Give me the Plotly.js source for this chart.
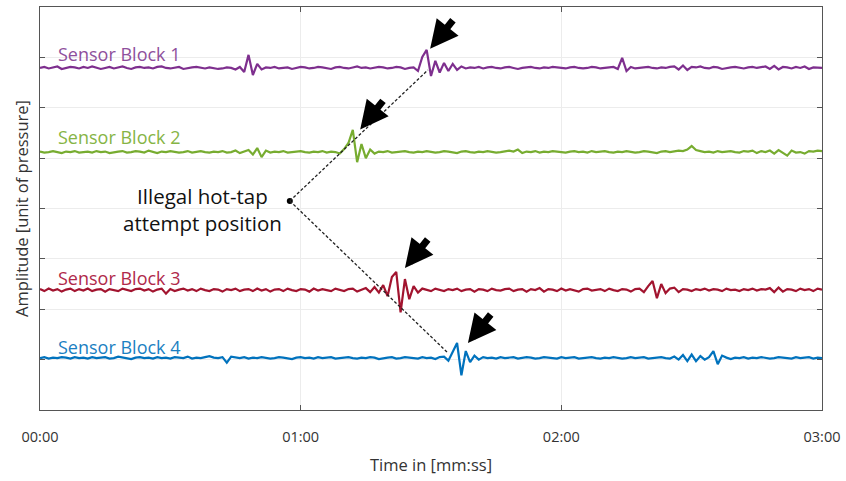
<!DOCTYPE html>
<html>
<head>
<meta charset="utf-8">
<script src="https://cdn.plot.ly/plotly-3.0.1.min.js"></script>
<style>html,body{margin:0;padding:0;background:#fff;}#chart{width:846px;height:481px;}</style>
</head>
<body>
<div id="chart"></div>
<script>
// ---- data ----
const sensorNames = ["Sensor Block 1", "Sensor Block 2", "Sensor Block 3", "Sensor Block 4"];
const channelOffsets = [6.79, 5.12, 2.38, 1.03];
const timeStartSec = 0;
const timeStepSec = 1;
const xTickVals = [0, 60, 120, 180];
const xTickText = ["00:00", "01:00", "02:00", "03:00"];

const block1 = [0.00,0.02,-0.01,0.01,0.03,-0.02,0.00,0.02,0.01,-0.01,
0.02,0.00,0.03,0.01,-0.02,0.00,0.02,-0.01,0.01,0.03,
0.00,-0.02,0.01,0.02,0.00,0.01,-0.01,0.02,0.03,0.00,
-0.01,0.01,0.02,-0.02,0.00,0.01,0.02,0.00,-0.01,0.01,
0.00,-0.02,-0.01,0.01,0.00,-0.03,0.02,-0.08,0.26,-0.14,
0.08,-0.03,0.01,0.00,0.02,-0.01,0.00,0.01,-0.02,0.00,
0.02,0.01,-0.01,0.00,0.02,0.01,0.00,-0.02,0.01,0.02,
0.00,-0.01,0.01,0.03,0.00,0.01,-0.01,0.00,0.02,0.01,
-0.01,0.00,0.02,0.01,-0.02,0.00,0.01,-0.06,0.22,0.36,
-0.16,0.14,-0.09,0.10,-0.06,0.08,-0.04,0.03,-0.01,0.01,
0.00,0.02,-0.01,0.01,0.02,0.00,-0.01,0.01,0.02,0.00,
-0.02,0.00,0.01,0.02,0.00,-0.01,0.01,0.00,0.02,0.01,
0.00,-0.01,0.01,0.02,0.00,-0.01,0.00,0.02,0.01,-0.01,
0.00,0.01,0.02,-0.02,0.20,-0.06,0.02,-0.01,0.00,0.01,
0.02,0.00,-0.01,0.01,0.00,0.02,0.03,-0.03,0.05,-0.04,
0.02,0.01,0.03,0.00,-0.01,0.02,0.01,-0.02,0.00,0.01,
0.02,0.00,-0.01,0.01,0.02,0.00,0.01,0.03,-0.02,0.04,
-0.03,0.02,0.01,-0.01,0.02,0.00,0.03,-0.02,0.01,0.00,
0.00];

const block2 = [0.01,-0.01,0.00,0.02,0.00,-0.02,0.01,0.00,0.02,-0.01,
0.00,0.01,-0.01,0.02,0.00,0.01,-0.02,0.00,0.01,0.02,
-0.01,0.00,0.02,0.01,-0.01,0.03,0.00,-0.02,0.01,0.00,
0.02,0.01,-0.01,0.00,0.02,-0.01,0.01,0.02,0.00,-0.01,
0.01,0.00,0.02,-0.01,0.00,0.03,-0.02,0.01,0.04,-0.05,
0.08,-0.10,0.03,-0.01,0.01,0.00,0.02,-0.01,0.00,0.01,
0.02,0.00,-0.01,0.01,0.00,0.02,-0.01,0.01,0.00,-0.03,
0.06,0.18,0.44,-0.20,0.16,-0.12,0.05,-0.03,0.01,0.00,
0.02,-0.01,0.00,0.01,0.02,0.00,-0.01,0.01,0.00,0.02,
0.01,-0.01,0.00,0.02,0.01,0.00,-0.02,0.01,0.02,0.00,
-0.01,0.01,0.00,0.02,0.01,-0.01,0.00,0.02,0.03,0.01,
0.05,-0.02,0.01,0.00,0.02,-0.01,0.01,0.00,0.02,0.01,
0.00,-0.01,0.01,0.02,0.00,0.01,-0.01,0.02,0.00,0.01,
0.02,0.00,-0.01,0.01,0.00,0.02,0.01,-0.01,0.00,0.02,
0.01,0.00,-0.02,0.01,0.02,0.00,0.01,0.03,0.02,0.05,
0.12,0.04,0.02,0.00,0.01,-0.01,0.02,0.00,0.01,0.02,
0.00,-0.01,0.02,0.01,0.03,-0.02,0.02,0.00,0.03,-0.03,
0.04,-0.02,-0.07,0.03,-0.01,0.00,-0.03,0.02,0.01,0.03,
0.02];

const block3 = [0.02,-0.02,0.03,-0.01,0.02,-0.03,0.01,0.03,-0.02,0.02,
-0.01,0.03,-0.02,0.01,0.02,-0.03,0.02,0.00,-0.02,0.03,
0.01,-0.02,0.02,0.03,-0.01,0.02,-0.03,0.01,0.03,-0.07,
0.02,-0.02,0.01,0.03,-0.01,0.02,-0.02,0.03,0.00,-0.02,
0.02,0.01,-0.03,0.02,0.00,0.03,-0.02,0.01,0.02,-0.02,
0.03,-0.01,0.02,-0.03,0.01,0.02,-0.02,0.03,0.00,-0.02,
0.02,0.01,-0.03,0.03,-0.01,0.02,0.00,-0.02,0.03,0.01,
-0.02,0.02,0.03,-0.03,0.01,0.04,-0.04,0.06,-0.05,0.10,
-0.12,0.26,0.36,-0.44,0.22,-0.18,0.08,-0.05,0.03,0.01,
-0.02,0.03,0.01,-0.02,0.02,0.00,0.03,-0.02,0.01,0.02,
-0.03,0.02,0.01,-0.02,0.03,0.00,-0.01,0.02,0.03,-0.02,
0.01,0.02,-0.03,0.02,0.00,0.04,-0.03,0.02,0.01,-0.02,
0.03,-0.01,0.02,0.00,-0.03,0.02,0.03,-0.01,0.01,0.02,
-0.02,0.03,0.00,-0.02,0.02,0.01,-0.03,0.02,0.03,-0.04,
0.08,0.18,-0.16,0.12,-0.06,0.03,0.05,-0.04,0.02,0.01,
-0.02,0.02,0.00,0.03,-0.01,0.02,0.01,-0.02,0.03,0.00,
0.01,-0.02,0.02,0.00,0.03,-0.01,0.02,0.01,0.04,-0.04,
0.05,-0.03,0.02,0.01,-0.02,0.03,0.00,0.02,-0.02,0.03,
0.01];

const block4 = [0.00,0.02,-0.01,0.01,0.00,0.02,0.01,-0.01,0.02,0.00,
0.01,-0.01,0.02,0.00,0.01,0.02,-0.01,0.00,0.03,0.01,
0.00,-0.02,0.01,0.02,0.00,0.01,-0.01,0.02,0.00,0.01,
-0.01,0.02,0.01,0.00,0.03,-0.01,0.01,0.00,0.02,0.04,
0.01,0.00,0.02,-0.09,0.03,0.01,0.00,0.02,-0.01,0.01,
0.00,0.02,0.01,-0.01,0.00,0.02,0.01,0.00,-0.02,0.01,
0.02,0.00,0.01,-0.01,0.02,0.00,0.01,0.02,-0.01,0.00,
0.01,0.02,0.00,-0.01,0.01,0.00,0.02,0.01,-0.02,0.00,
0.01,0.02,-0.01,0.00,0.02,0.01,0.00,-0.01,0.02,0.00,
0.01,-0.02,0.02,0.03,-0.05,0.12,0.30,-0.34,0.14,-0.08,
0.05,-0.03,0.02,0.00,0.01,-0.01,0.02,0.00,0.01,0.02,
-0.01,0.00,0.02,0.01,-0.01,0.00,0.02,0.01,0.00,-0.01,
0.02,0.00,0.01,0.02,-0.01,0.00,0.01,0.02,0.00,-0.01,
0.01,0.00,0.02,0.01,-0.01,0.00,0.02,0.00,0.01,0.02,
-0.01,0.00,0.01,0.02,0.00,-0.01,0.03,-0.03,0.06,-0.06,
0.07,-0.06,0.04,-0.03,0.02,0.14,-0.12,0.05,0.01,-0.02,
0.01,0.00,0.02,-0.01,0.01,0.00,0.02,0.01,-0.01,0.00,
0.02,0.01,0.00,-0.01,0.02,0.00,0.01,0.02,-0.01,0.01,
0.00];

// Arrival-detection markers (arrow heads) per block: [time s, amplitude]
const arrivalTimes = [89.8, 73.7, 84.0, 98.5];
const arrivalLevels = [7.17, 5.57, 2.82, 1.33];
// Hot-tap position and pickup points on the dotted paths
const hotTapPoint = [57.5, 4.15];
const pathEndUpper = [89.3, 6.75];
const pathEndLower = [93.7, 1.15];
const labelTime = 3.6;
const labelLevels = [7.07, 5.42, 2.63, 1.26];
const hotTapLabelPos = [37.5, 3.98];

// ---- chart ----
const colors = ["#7E2F8E", "#77AC30", "#A2142F", "#0072BD"];
const labelColors = ["#8E4F9C", "#86B445", "#B0294A", "#1B7FC2"];
const series = [block1, block2, block3, block4];
const font = "'Open Sans', 'Liberation Sans', sans-serif";

const traces = series.map((vals, i) => ({
  x: vals.map((_, k) => timeStartSec + k * timeStepSec),
  y: vals.map(v => v + channelOffsets[i]),
  type: "scatter",
  mode: "lines",
  line: {color: colors[i], width: 2.2},
  hoverinfo: "skip",
  showlegend: false
}));

traces.push({
  x: [hotTapPoint[0]], y: [hotTapPoint[1]],
  type: "scatter", mode: "markers",
  marker: {color: "#000", size: 6},
  showlegend: false, hoverinfo: "skip"
});

const annotations = [];
sensorNames.forEach((name, i) => {
  annotations.push({
    x: labelTime, y: labelLevels[i], xref: "x", yref: "y",
    text: name, showarrow: false, xanchor: "left", yanchor: "middle",
    font: {family: font, size: 18, color: labelColors[i]}
  });
  annotations.push({
    x: arrivalTimes[i], y: arrivalLevels[i], xref: "x", yref: "y",
    text: "", showarrow: true, arrowhead: 2, arrowsize: 0.8, arrowwidth: 7,
    arrowcolor: "#000", ax: 24, ay: -30, standoff: 0
  });
});
annotations.push({
  x: hotTapLabelPos[0], y: hotTapLabelPos[1], xref: "x", yref: "y",
  text: "Illegal hot-tap<br>attempt position", showarrow: false,
  xanchor: "center", yanchor: "middle", align: "center",
  font: {family: font, size: 20.5, color: "#111"}
});

const shapes = [pathEndUpper, pathEndLower].map(p => ({
  type: "line", xref: "x", yref: "y",
  x0: hotTapPoint[0], y0: hotTapPoint[1], x1: p[0], y1: p[1],
  line: {color: "#222", width: 1.3, dash: "3px,2px"}
}));

const layout = {
  width: 846, height: 481,
  margin: {l: 40, r: 24, t: 7, b: 71},
  paper_bgcolor: "#fff", plot_bgcolor: "#fff",
  font: {family: font, color: "#333"},
  xaxis: {
    range: [0, 180], tickvals: xTickVals, ticktext: xTickText,
    showline: true, linecolor: "#555", linewidth: 1.2, mirror: "ticks",
    ticks: "inside", ticklen: 5, tickcolor: "#555",
    showgrid: true, gridcolor: "#ececec", zeroline: false,
    tickfont: {family: font, size: 14.5, color: "#333"},
    ticklabelstandoff: 13,
    title: {text: "Time in [mm:ss]", font: {family: font, size: 16.5, color: "#333"}, standoff: 14}
  },
  yaxis: {
    range: [0, 8], dtick: 1, tick0: 0, showticklabels: false,
    showline: true, linecolor: "#555", linewidth: 1.2, mirror: "ticks",
    ticks: "inside", ticklen: 5, tickcolor: "#555",
    showgrid: true, gridcolor: "#ececec", zeroline: false,
    title: {text: "Amplitude [unit of pressure]", font: {family: font, size: 16.5, color: "#333"}, standoff: 6}
  },
  annotations: annotations,
  shapes: shapes,
  showlegend: false
};

Plotly.newPlot("chart", traces, layout, {displayModeBar: false, staticPlot: true});
</script>
</body>
</html>
